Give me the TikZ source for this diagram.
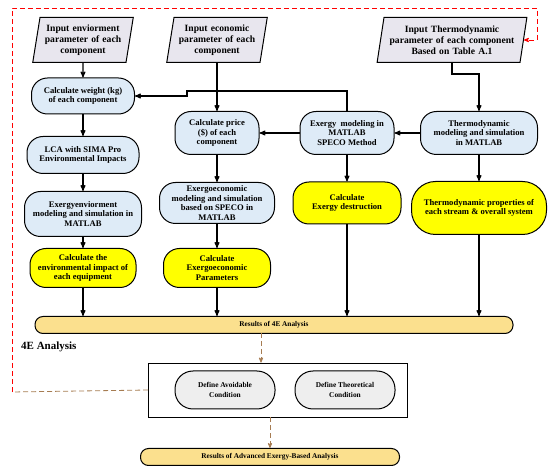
\documentclass[tikz,border=0pt]{standalone}
\usepackage{fontspec}
\setmainfont{Liberation Serif}
\usetikzlibrary{arrows}
\usetikzlibrary{shapes.geometric}
\usetikzlibrary{calc}

\definecolor{inpgray}{HTML}{E8E6EE}
\definecolor{procblue}{HTML}{DEEBF7}
\definecolor{outyel}{HTML}{FFFF00}
\definecolor{resgold}{HTML}{FBE08E}
\definecolor{condgray}{HTML}{EEEEEE}
\definecolor{loopbrown}{HTML}{A67C52}

\tikzset{
 inpar/.style={trapezium, trapezium left angle=79, trapezium right angle=101, trapezium stretches=true, draw, line width=1pt, fill=inpgray, align=center, font=\fontsize{9.6}{11}\selectfont\bfseries, minimum height=45pt, inner xsep=3pt},
 proc/.style={rectangle, rounded corners=16pt, draw, line width=1pt, fill=procblue, align=center, font=\fontsize{8.6}{9.7}\selectfont\bfseries, inner sep=2pt},
 outp/.style={proc, fill=outyel},
 resbar/.style={rectangle, rounded corners=8pt, draw, line width=1pt, fill=resgold, font=\fontsize{7.3}{8}\selectfont\bfseries, minimum height=17pt, inner sep=1pt},
 cond/.style={proc, fill=condgray, font=\fontsize{7.4}{9.5}\selectfont\bfseries},
 flow/.style={black, line width=1.1pt, ->},
 loopline/.style={red, line width=0.8pt, dash pattern=on 5pt off 3pt},
 brownline/.style={loopbrown, line width=0.8pt, dash pattern=on 5pt off 3pt},
}

\begin{document}
\begin{tikzpicture}[x=1pt, y=-1pt, >=stealth']
\useasboundingbox (0,0) rectangle (550,473);
\node[inpar, text width=80pt] (envin) at (83,40) {Input enviorment\\parameter of each\\component};
\node[inpar, text width=80pt] (ecoin) at (217,40) {Input economic\\parameter of each\\component};
\node[inpar, text width=130pt] (thin) at (452,40) {Input Thermodynamic\\parameter of each component\\Based on Table A.1};

\node[proc, minimum width=103pt, minimum height=36pt] (wgt) at (83,96) {Calculate weight (kg)\\of each component};
\node[proc, minimum width=112pt, minimum height=37pt] (lca) at (83,155) {LCA with SIMA Pro\\Environmental Impacts};
\node[proc, minimum width=117pt, minimum height=45pt] (exenv) at (83,214) {Exergyenviorment\\modeling and simulation in\\MATLAB};
\node[outp, minimum width=106pt, minimum height=39pt] (envimp) at (83,268) {Calculate the\\environmental impact of\\each equipment};

\node[proc, minimum width=84pt, minimum height=43pt] (prc) at (217,133) {Calculate price\\(\$) of each\\component};
\node[proc, minimum width=115pt, minimum height=41pt] (execo) at (217,203) {Exergoeconomic\\modeling and simulation\\based on SPECO in\\MATLAB};
\node[outp, minimum width=107pt, minimum height=39pt] (ecopar) at (217,268) {Calculate\\Exergoeconomic\\Parameters};

\node[proc, minimum width=94pt, minimum height=43pt] (exm) at (347,133) {Exergy\ \ modeling in\\MATLAB\\SPECO Method};
\node[outp, minimum width=108pt, minimum height=42pt] (exd) at (347,203) {Calculate\\Exergy destruction};
\node[proc, minimum width=117pt, minimum height=43pt] (thm) at (479,133) {Thermodynamic\\modeling and simulation\\in MATLAB};
\node[outp, minimum width=135pt, minimum height=53pt, rounded corners=24pt] (thp) at (479,208) {Thermodynamic properties of\\each stream \& overall system};

\node[resbar, minimum width=478pt] (res4e) at (274,325) {Results of 4E Analysis};
\node[font=\fontsize{11}{12}\selectfont\bfseries, anchor=west, inner sep=0pt] (lbl4e) at (21,347) {4E Analysis};
\node[draw, line width=0.8pt, fill=white, minimum width=259pt, minimum height=54pt] (advbox) at (278,390) {};
\node[cond, minimum width=100pt, minimum height=38pt, rounded corners=18pt] (avd) at (225,390) {Define Avoidable\\Condition};
\node[cond, minimum width=100pt, minimum height=38pt, rounded corners=18pt] (theo) at (345,390) {Define Theoretical\\Condition};
\node[resbar, minimum width=259pt] (resadv) at (270,457) {Results of Advanced Exergy-Based Analysis};

\draw[flow] (envin) -- (wgt);
\draw[flow] (wgt) -- (lca);
\draw[flow] (lca) -- (exenv);
\draw[flow] (exenv) -- (envimp);
\draw[flow] (envimp) -- (envimp |- res4e.north);
\draw[flow] (ecoin) -- (prc);
\draw[flow] (prc) -- (execo);
\draw[flow] (execo) -- (ecopar);
\draw[flow] (ecopar) -- (ecopar |- res4e.north);
\draw[flow] (exm) -- (exd);
\draw[flow] (exd) -- (exd |- res4e.north);
\draw[flow] (thm) -- (thp);
\draw[flow] (thp) -- (thp |- res4e.north);
\draw[flow] (thm) -- (exm);
\draw[flow] (exm) -- (prc);
\draw[flow] (thin.south) -- ++(0,11) -| (thm);
\coordinate (kink) at (187,91);
\draw[flow] (exm.north) |- (kink) -- (kink |- wgt.east) -- (wgt.east);

\coordinate (drop) at (261,333);
\coordinate (lcorner) at (12,392);
\coordinate (tcorner) at (537,8);
\draw[brownline, ->] (drop) -- (drop |- advbox.north);
\draw[brownline, ->] (advbox.south -| resadv.north) -- (resadv.north);
\draw[brownline] (advbox.west) -- (lcorner);
\draw[loopline, ->] (lcorner) |- (tcorner) |- (thin.east);
\end{tikzpicture}
\end{document}
